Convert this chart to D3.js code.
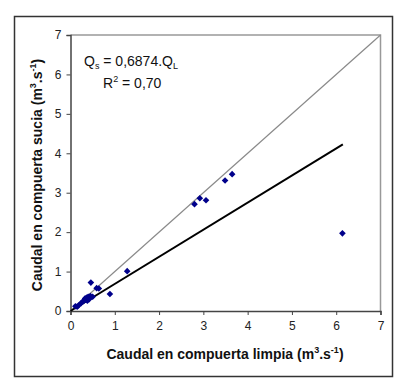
<!DOCTYPE html>
<html><head><meta charset="utf-8">
<script src="https://cdn.jsdelivr.net/npm/d3@7"></script>
<style>body{margin:0;background:#fff}svg{display:block}text{font-family:Arial,"Liberation Sans",sans-serif}</style>
</head><body>
<svg id="c" width="400" height="381"></svg>
<script>
const xTicks = [0,1,2,3,4,5,6,7];
const yTicks = [0,1,2,3,4,5,6,7];
const qLimpia = [0.11,0.15,0.18,0.24,0.28,0.31,0.33,0.35,0.37,0.38,0.40,0.42,0.45,0.50,0.46,0.59,0.64,0.89,1.28,2.80,2.92,3.06,3.49,3.65,6.14];
const qSucia  = [0.12,0.11,0.14,0.20,0.24,0.27,0.32,0.29,0.34,0.26,0.36,0.30,0.38,0.36,0.72,0.58,0.57,0.43,1.01,2.71,2.86,2.81,3.31,3.47,1.97];
const slope = 0.6874;
const fitRange = [0, 6.15];
const identityRange = [0, 7];

const svg = d3.select("#c");
const x = d3.scaleLinear().domain([0,7]).range([70.5,380.5]);
const y = d3.scaleLinear().domain([0,7]).range([311,35]);

// outer frame
svg.append("rect").attr("x",14.5).attr("y",16.5).attr("width",378).attr("height",360)
  .attr("fill","none").attr("stroke","#333").attr("stroke-width",1.5);

// plot border (top/right gray)
svg.append("path").attr("d",`M${x(0)},${y(7)}H${x(7)}V${y(0)}`).attr("fill","none").attr("stroke","#999").attr("stroke-width",1.5);

const xa = svg.append("g").attr("transform",`translate(0,${y(0)})`)
  .call(d3.axisBottom(x).tickValues(xTicks).tickSize(4).tickPadding(6).tickFormat(d3.format("d")));
const ya = svg.append("g").attr("transform",`translate(${x(0)},0)`)
  .call(d3.axisLeft(y).tickValues(yTicks).tickSize(4).tickPadding(5).tickFormat(d3.format("d")));
[xa,ya].forEach(a=>{
  a.select(".domain").attr("stroke","#444").attr("stroke-width",1.5);
  a.selectAll(".tick line").attr("stroke","#444");
  a.selectAll(".tick text").attr("font-size",12).attr("fill","#222").attr("font-family","Arial, 'Liberation Sans', sans-serif");
});

// identity line
svg.append("line").attr("x1",x(identityRange[0])).attr("y1",y(identityRange[0]))
  .attr("x2",x(identityRange[1])).attr("y2",y(identityRange[1])).attr("stroke","#8a8a8a").attr("stroke-width",1.2);
// fit line
svg.append("line").attr("x1",x(fitRange[0])).attr("y1",y(slope*fitRange[0]))
  .attr("x2",x(fitRange[1])).attr("y2",y(slope*fitRange[1])).attr("stroke","#000").attr("stroke-width",2);

// points
const sym = d3.symbol().type(d3.symbolDiamond2).size(28);
svg.append("g").selectAll("path").data(qLimpia.map((d,i)=>[d,qSucia[i]])).join("path")
  .attr("d",sym).attr("transform",d=>`translate(${x(d[0])},${y(d[1])})`).attr("fill","#00008b");

// equation text
const t1 = svg.append("text").attr("x",84).attr("y",66).attr("font-size",14).attr("fill","#111");
t1.append("tspan").text("Q");
t1.append("tspan").attr("font-size",9).attr("dy",3).text("s");
t1.append("tspan").attr("dy",-3).text(" = 0,6874.Q");
t1.append("tspan").attr("font-size",9).attr("dy",3).text("L");
const t2 = svg.append("text").attr("x",103).attr("y",88).attr("font-size",14).attr("fill","#111");
t2.append("tspan").text("R");
t2.append("tspan").attr("font-size",9).attr("dy",-6).text("2");
t2.append("tspan").attr("dy",6).text(" = 0,70");

// axis titles
const xl = svg.append("text").attr("x",225).attr("y",359).attr("text-anchor","middle").attr("font-size",14).attr("font-weight","bold").attr("fill","#111");
xl.append("tspan").text("Caudal en compuerta limpia (m");
xl.append("tspan").attr("font-size",9).attr("dy",-6).text("3");
xl.append("tspan").attr("dy",6).text(".s");
xl.append("tspan").attr("font-size",9).attr("dy",-6).text("-1");
xl.append("tspan").attr("dy",6).text(")");

const yl = svg.append("text").attr("transform","translate(42,175) rotate(-90)").attr("text-anchor","middle").attr("font-size",14).attr("font-weight","bold").attr("fill","#111");
yl.append("tspan").text("Caudal en compuerta sucia (m");
yl.append("tspan").attr("font-size",9).attr("dy",-6).text("3");
yl.append("tspan").attr("dy",6).text(".s");
yl.append("tspan").attr("font-size",9).attr("dy",-6).text("-1");
yl.append("tspan").attr("dy",6).text(")");
</script>
</body></html>
